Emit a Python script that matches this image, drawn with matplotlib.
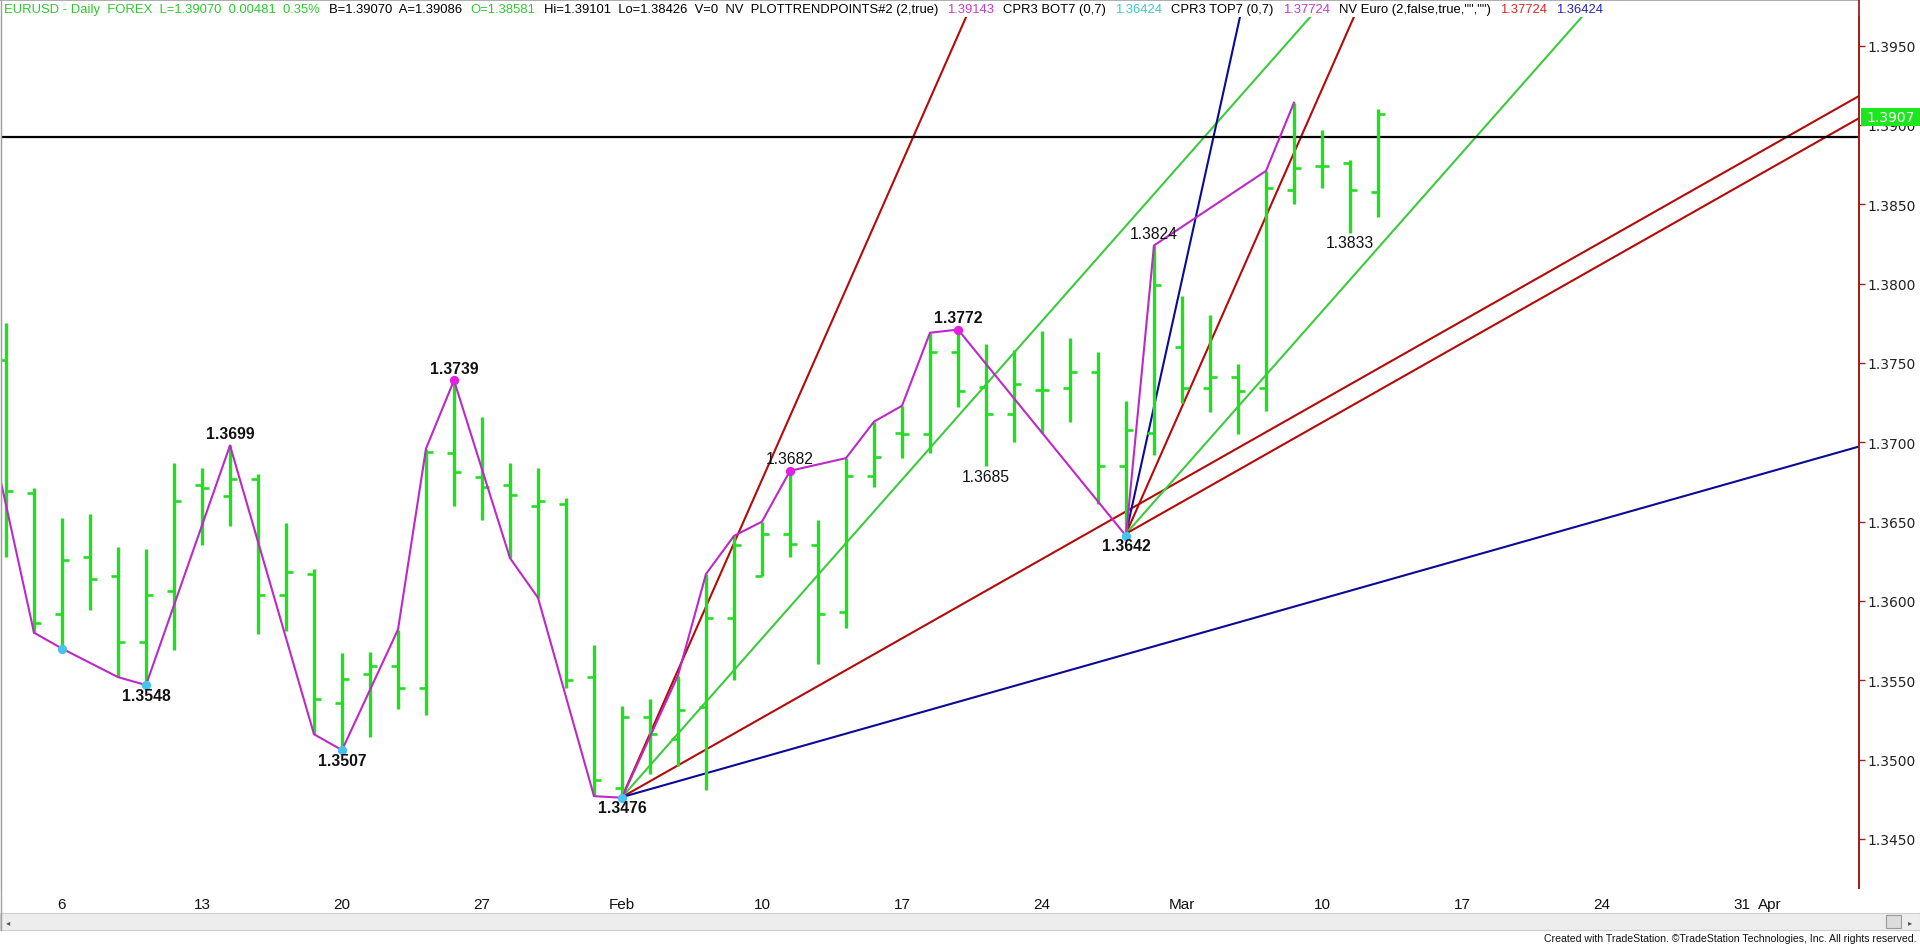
import matplotlib
matplotlib.use("Agg")
import numpy as np
import matplotlib.pyplot as plt
import matplotlib.transforms as mtransforms
from matplotlib import font_manager
from matplotlib.lines import Line2D
from matplotlib.patches import Rectangle

W, H = 1920, 945

# EURUSD daily bars, Jan 2 .. Mar 12 2014 (one per trading day)
opens = [1.3752, 1.3668, 1.3592, 1.3628, 1.3616, 1.3574, 1.3606, 1.3673, 1.3666, 1.3677,
         1.3604, 1.3617, 1.3536, 1.3554, 1.3559, 1.3545, 1.3693, 1.3678, 1.3673, 1.3660,
         1.3661, 1.3552, 1.3482, 1.3527, 1.3513, 1.3533, 1.3589, 1.3616, 1.3642, 1.3635,
         1.3593, 1.3679, 1.3706, 1.3705, 1.3757, 1.3735, 1.3718, 1.3733, 1.3734, 1.3744,
         1.3685, 1.3706, 1.3760, 1.3734, 1.3741, 1.3734, 1.3859, 1.3874, 1.3876, 1.3858]
highs = [1.3775, 1.3671, 1.3652, 1.3655, 1.3634, 1.3633, 1.3687, 1.3684, 1.3698, 1.3680,
         1.3649, 1.3620, 1.3567, 1.3568, 1.3582, 1.3696, 1.3739, 1.3716, 1.3687, 1.3684,
         1.3665, 1.3572, 1.3534, 1.3538, 1.3553, 1.3617, 1.3641, 1.3650, 1.3682, 1.3651,
         1.3690, 1.3713, 1.3723, 1.3769, 1.3771, 1.3762, 1.3758, 1.3770, 1.3766, 1.3757,
         1.3726, 1.3824, 1.3792, 1.3780, 1.3749, 1.3871, 1.3914, 1.3897, 1.3878, 1.3910]
lows = [1.3628, 1.3580, 1.3570, 1.3594, 1.3552, 1.3547, 1.3569, 1.3635, 1.3647, 1.3579,
        1.3581, 1.3516, 1.3506, 1.3514, 1.3532, 1.3528, 1.3660, 1.3651, 1.3627, 1.3602,
        1.3545, 1.3477, 1.3476, 1.3491, 1.3496, 1.3481, 1.3550, 1.3616, 1.3628, 1.3560,
        1.3583, 1.3672, 1.3690, 1.3693, 1.3722, 1.3685, 1.3700, 1.3706, 1.3713, 1.3661,
        1.3641, 1.3692, 1.3725, 1.3719, 1.3705, 1.3720, 1.3850, 1.3860, 1.3832, 1.3842]
closes = [1.3669, 1.3586, 1.3626, 1.3614, 1.3574, 1.3604, 1.3663, 1.3671, 1.3677, 1.3604,
          1.3618, 1.3538, 1.3551, 1.3559, 1.3545, 1.3694, 1.3681, 1.3672, 1.3667, 1.3663,
          1.3550, 1.3487, 1.3527, 1.3516, 1.3531, 1.3589, 1.3635, 1.3642, 1.3636, 1.3592,
          1.3679, 1.3691, 1.3705, 1.3757, 1.3732, 1.3718, 1.3737, 1.3733, 1.3744, 1.3685,
          1.3708, 1.3799, 1.3734, 1.3741, 1.3732, 1.3860, 1.3873, 1.3874, 1.3859, 1.3907]

# time axis labels (bar index -> text), future bars continue the trading calendar
date_pos = [2, 7, 12, 17, 22, 27, 32, 37, 42, 47, 52, 57, 62, 63]
date_txt = ['6', '13', '20', '27', 'Feb', '10', '17', '24', 'Mar', '10', '17', '24', '31', 'Apr']

# swing line drawn by PLOTTRENDPOINTS
zz_idx = [-1, 1, 2, 4, 5, 8, 11, 12, 14, 15, 16, 18, 19, 21, 22, 24, 25, 26, 27, 28,
          30, 31, 32, 33, 34, 40, 41, 45, 46]
zz_px = [1.3741, 1.3580, 1.3570, 1.3552, 1.3547, 1.3698, 1.3516, 1.3506, 1.3582, 1.3696,
         1.3739, 1.3627, 1.3602, 1.3477, 1.3476, 1.3553, 1.3617, 1.3641, 1.3650, 1.3682,
         1.3690, 1.3713, 1.3723, 1.3769, 1.3771, 1.3641, 1.3824, 1.3871, 1.3914]

hi_dot_idx = [16, 28, 34]
lo_dot_idx = [2, 5, 12, 22, 40]

# swing labels
lab_idx = [5, 8, 12, 16, 22, 28, 34, 35, 40, 41, 48]
lab_txt = ['1.3548', '1.3699', '1.3507', '1.3739', '1.3476', '1.3682', '1.3772',
           '1.3685', '1.3642', '1.3824', '1.3833']
lab_high = [False, True, False, True, False, True, True, False, False, True, False]
lab_bold = [True, True, True, True, True, False, True, False, True, False, False]

# Gann style fans: anchor bar / price and slope in price per bar
fan1_idx, fan1_px = 22, 1.34764
fan1_slopes = [0.004, 0.002, 0.001, 0.0005]
fan2_idx, fan2_px = 40, 1.36424
fan2_slopes = [0.008, 0.004, 0.002, 0.001]

level = 1.38925
last = 1.3907

header = [("EURUSD - Daily  FOREX  L=1.39070  0.00481  0.35%", '#2FC82F'),
          ("B=1.39070  A=1.39086", 'black'),
          ("O=1.38581", '#2FC82F'),
          ("Hi=1.39101  Lo=1.38426  V=0  NV  PLOTTRENDPOINTS#2 (2,true)", 'black'),
          ("1.39143", '#C83CC8'),
          ("CPR3 BOT7 (0,7)", 'black'),
          ("1.36424", '#3CC8C8'),
          ("CPR3 TOP7 (0,7)", 'black'),
          ("1.37724", '#C83CC8'),
          ('NV Euro (2,false,true,"","")', 'black'),
          ("1.37724", '#DC2828'),
          ("1.36424", '#2828B4')]

names = {f.name for f in font_manager.fontManager.ttflist}
narrow = 'Liberation Sans Narrow' if 'Liberation Sans Narrow' in names else 'Liberation Sans'

GREEN = '#22DD22'
RED = '#B40A0A'
FGREEN = '#3CCB3C'
BLUE = '#0A0A96'
fan1_cols = [RED, FGREEN, RED, BLUE]
fan2_cols = [BLUE, RED, FGREEN, RED]

fig = plt.figure(figsize=(W / 100, H / 100), dpi=100)
fig.patch.set_facecolor('white')


def px2y(p):
    return 1.395 - (p - 46.5) / 15870.0


ax = fig.add_axes([1 / W, 1 - 889 / H, 1858 / W, 871 / H])
ax.set_xlim((1 - 6) / 28.0, (1859 - 6) / 28.0)
ax.set_ylim(px2y(889), px2y(18))

# fans
for a_i, a_p, slopes, cols in [(fan1_idx, fan1_px, fan1_slopes, fan1_cols),
                               (fan2_idx, fan2_px, fan2_slopes, fan2_cols)]:
    for s, c in zip(slopes, cols):
        xs = np.array([a_i, 80.0])
        ax.plot(xs, a_p + s * (xs - a_i), color=c, lw=1.5, zorder=2)

ax.axhline(level, color='black', lw=1.6, zorder=2)

# OHLC bars
idx = np.arange(len(opens))
ax.vlines(idx, lows, highs, color=GREEN, lw=2.4, zorder=3)
ax.hlines(opens, idx - 0.26, idx, color=GREEN, lw=1.9, zorder=3)
ax.hlines(closes, idx, idx + 0.26, color=GREEN, lw=1.9, zorder=3)

# swing line and dots
ax.plot(zz_idx, zz_px, color='#BE28C8', lw=1.5, zorder=4)
ax.scatter(hi_dot_idx, [highs[i] for i in hi_dot_idx], s=45, color='#E41EE4', zorder=5, lw=0)
ax.scatter(lo_dot_idx, [lows[i] for i in lo_dot_idx], s=45, color='#46C3F0', zorder=5, lw=0)

for i, t, up, b in zip(lab_idx, lab_txt, lab_high, lab_bold):
    yv = highs[i] if up else lows[i]
    ax.annotate(t, (i, yv), xytext=(0, 12 if up else -10), textcoords='offset pixels',
                ha='center', va='center', fontsize=11.3, family='Liberation Sans',
                fontweight='bold' if b else 'normal', color='#111111', zorder=6)

# axes look
for side in ['top', 'bottom']:
    ax.spines[side].set_visible(False)
ax.spines['left'].set_color('#A0A0A0')
ax.spines['right'].set_color('#A01E1E')
ax.spines['right'].set_linewidth(1.3)
ax.yaxis.tick_right()
yt = np.arange(1.345, 1.3951, 0.005)
ax.set_yticks(yt)
ax.set_yticklabels(['%.4f' % v for v in yt])
ax.tick_params(axis='y', direction='out', length=4, width=1, color='#A01E1E',
               pad=2, labelsize=10, labelcolor='#222222')
for lb in ax.get_yticklabels():
    lb.set_family('DejaVu Sans')
ax.set_xticks(date_pos)
ax.set_xticklabels(date_txt, family=narrow, fontsize=12 if narrow != 'Liberation Sans' else 11)
ax.tick_params(axis='x', length=0, pad=6.5, labelcolor='#111111')

# last price box on the scale
bt = mtransforms.blended_transform_factory(fig.transFigure, ax.transData)
bh = 18 / 15870.0
bc = last - 3 / 15870.0
ax.add_patch(Rectangle((1861 / W, bc - bh / 2), 59 / W, bh, transform=bt,
                       facecolor='#1EE61E', edgecolor='none', clip_on=False, zorder=7))
ax.text(1866 / W, bc, '%.4f' % last, transform=bt, color='white', fontsize=10,
        family='DejaVu Sans', va='center', ha='left', zorder=8, clip_on=False)

# frame lines outside the plot area
ft = fig.transFigure
fig.add_artist(Line2D([1 / W, 1 / W], [1 - 931 / H, 1], color='#A0A0A0', lw=1, transform=ft))
fig.add_artist(Line2D([0, 1859 / W], [1 - 0.5 / H, 1 - 0.5 / H], color='#A0A0A0', lw=1.2, transform=ft))
fig.add_artist(Line2D([1859 / W, 1859 / W], [1 - 889 / H, 1], color='#A01E1E', lw=1.3, transform=ft))

# scrollbar
fig.add_artist(Rectangle((0, 1 - 931 / H), 1, 17 / H, transform=ft, facecolor='#EDEDED',
                         edgecolor='#CFCFCF', lw=0.8))
fig.add_artist(Rectangle((1886 / W, 1 - 929 / H), 15 / W, 13 / H, transform=ft,
                         facecolor='#DCDCDC', edgecolor='#9A9A9A', lw=0.8))
fig.text(6 / W, 1 - 922.5 / H, '\u25c2', fontsize=6, color='#555555', va='center', family='DejaVu Sans')
fig.text(1908 / W, 1 - 922.5 / H, '\u25b8', fontsize=6, color='#555555', va='center', family='DejaVu Sans')

fig.text(1917 / W, 1 - 939 / H,
         'Created with TradeStation. \u00a9TradeStation Technologies, Inc. All rights reserved.',
         ha='right', va='center', fontsize=9 if narrow != 'Liberation Sans' else 7.6,
         family=narrow, color='#111111')

# header line: fit the coloured pieces into the measured width
fig.canvas.draw()
rend = fig.canvas.get_renderer()
gap = 9
f0 = 10.0
ws = []
for s, c in header:
    t = fig.text(0, 0, s, fontsize=f0, family=narrow)
    ws.append(t.get_window_extent(rend).width)
    t.remove()
fs = f0 * (1603 - 4 - gap * (len(header) - 1)) / sum(ws)
x = 4.0
for (s, c), w in zip(header, ws):
    fig.text(x / W, 1 - 10 / H, s, fontsize=fs, family=narrow, color=c, va='center', ha='left')
    x += w * fs / f0 + gap

fig.savefig('out.png', dpi=100, facecolor='white')
